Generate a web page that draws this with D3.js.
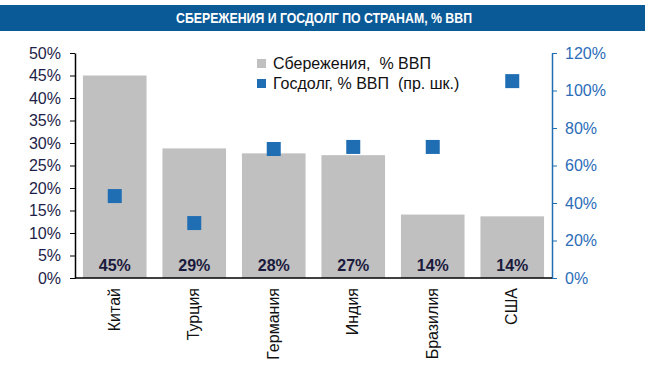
<!DOCTYPE html>
<html><head><meta charset="utf-8">
<script src="https://cdn.jsdelivr.net/npm/d3@7"></script>
<style>body{margin:0;background:#fff}svg{display:block}</style>
</head><body>
<script>
const categories = ["Китай","Турция","Германия","Индия","Бразилия","США"];
const savings = [45.0, 28.8, 27.7, 27.3, 14.1, 13.7];
const debt = [43.7, 29.3, 68.8, 69.9, 69.9, 105.0];
const savingsLabels = ["45%","29%","28%","27%","14%","14%"];
const leftTicks = [0,5,10,15,20,25,30,35,40,45,50];
const rightTicks = [0,20,40,60,80,100,120];
const title = "СБЕРЕЖЕНИЯ И ГОСДОЛГ ПО СТРАНАМ, % ВВП";
const legendLabels = ["Сбережения,  % ВВП", "Госдолг, % ВВП  (пр. шк.)"];

const W = 648, H = 380;
const svg = d3.select("body").append("svg").attr("width", W).attr("height", H);
const font = "'Liberation Sans', Arial, sans-serif";
const fs = 16;

svg.append("rect").attr("x",0).attr("y",5).attr("width",645).attr("height",26).attr("fill","#0a5a97");
svg.append("text").attr("x",176).attr("y",23)
  .attr("fill","#fff").attr("font-family",font)
  .attr("font-weight","bold").attr("font-size",14)
  .attr("textLength",296).attr("lengthAdjust","spacingAndGlyphs").text(title);

const x0 = 75, x1 = 552, yTop = 53, yBot = 278;
const x = d3.scaleBand().domain(categories).range([x0, x1]).paddingInner(0.2).paddingOuter(0.1);
const yL = d3.scaleLinear().domain([0,50]).range([yBot, yTop]);
const yR = d3.scaleLinear().domain([0,120]).range([yBot, yTop]);

// bars
svg.selectAll(".bar").data(categories).enter().append("rect")
  .attr("x", d => x(d)).attr("width", x.bandwidth())
  .attr("y", (d,i) => yL(savings[i])).attr("height", (d,i) => yBot - yL(savings[i]))
  .attr("fill", "#c0c0c0");

// bar labels
svg.selectAll(".bl").data(categories).enter().append("text")
  .attr("x", d => x(d) + x.bandwidth()/2).attr("y", 271)
  .attr("text-anchor","middle").attr("font-family",font).attr("font-weight","bold")
  .attr("font-size",fs).attr("fill","#1a1a3c").text((d,i) => savingsLabels[i]);

// squares
const s = 14;
svg.selectAll(".sq").data(categories).enter().append("rect")
  .attr("x", d => x(d) + x.bandwidth()/2 - s/2).attr("width", s).attr("height", s)
  .attr("y", (d,i) => yR(debt[i]) - s/2).attr("fill", "#1f6eb3");

// left axis
const gL = svg.append("g").attr("transform", `translate(${x0},0)`)
  .call(d3.axisLeft(yL).tickValues(leftTicks).tickSize(5).tickSizeOuter(0).tickFormat(d => d + "%"));
gL.select(".domain").attr("stroke","#000").attr("stroke-width",1.5);
gL.selectAll(".tick line").attr("stroke","#000");
gL.selectAll("text").attr("font-family",font).attr("font-size",fs).attr("fill","#1e1e48").attr("x",-14);

// right axis
const gR = svg.append("g").attr("transform", `translate(${x1},0)`)
  .call(d3.axisRight(yR).tickValues(rightTicks).tickSize(5).tickSizeOuter(0).tickFormat(d => d + "%"));
gR.select(".domain").attr("stroke","#1f6eb3").attr("stroke-width",1.5);
gR.selectAll(".tick line").attr("stroke","#1f6eb3");
gR.selectAll("text").attr("font-family",font).attr("font-size",fs).attr("fill","#2b6cb8").attr("x",13);

// bottom axis
svg.append("line").attr("x1",x0).attr("x2",x1).attr("y1",yBot).attr("y2",yBot).attr("stroke","#000").attr("stroke-width",1.5);
svg.selectAll(".xl").data(categories).enter().append("text")
  .attr("transform", d => `translate(${x(d)+x.bandwidth()/2+5},288) rotate(-90)`)
  .attr("text-anchor","end").attr("font-family",font).attr("font-size",fs).attr("fill","#111")
  .text(d => d);

// legend
const lg = svg.append("g");
lg.append("rect").attr("x",257).attr("y",59).attr("width",9).attr("height",9).attr("fill","#c0c0c0");
lg.append("rect").attr("x",257).attr("y",79).attr("width",9).attr("height",9).attr("fill","#1f6eb3");
lg.append("text").attr("x",273).attr("y",69).attr("font-family",font).attr("font-size",fs).attr("fill","#111").style("white-space","pre").text(legendLabels[0]);
lg.append("text").attr("x",273).attr("y",89).attr("font-family",font).attr("font-size",fs).attr("fill","#111").style("white-space","pre").text(legendLabels[1]);
</script>
</body></html>
